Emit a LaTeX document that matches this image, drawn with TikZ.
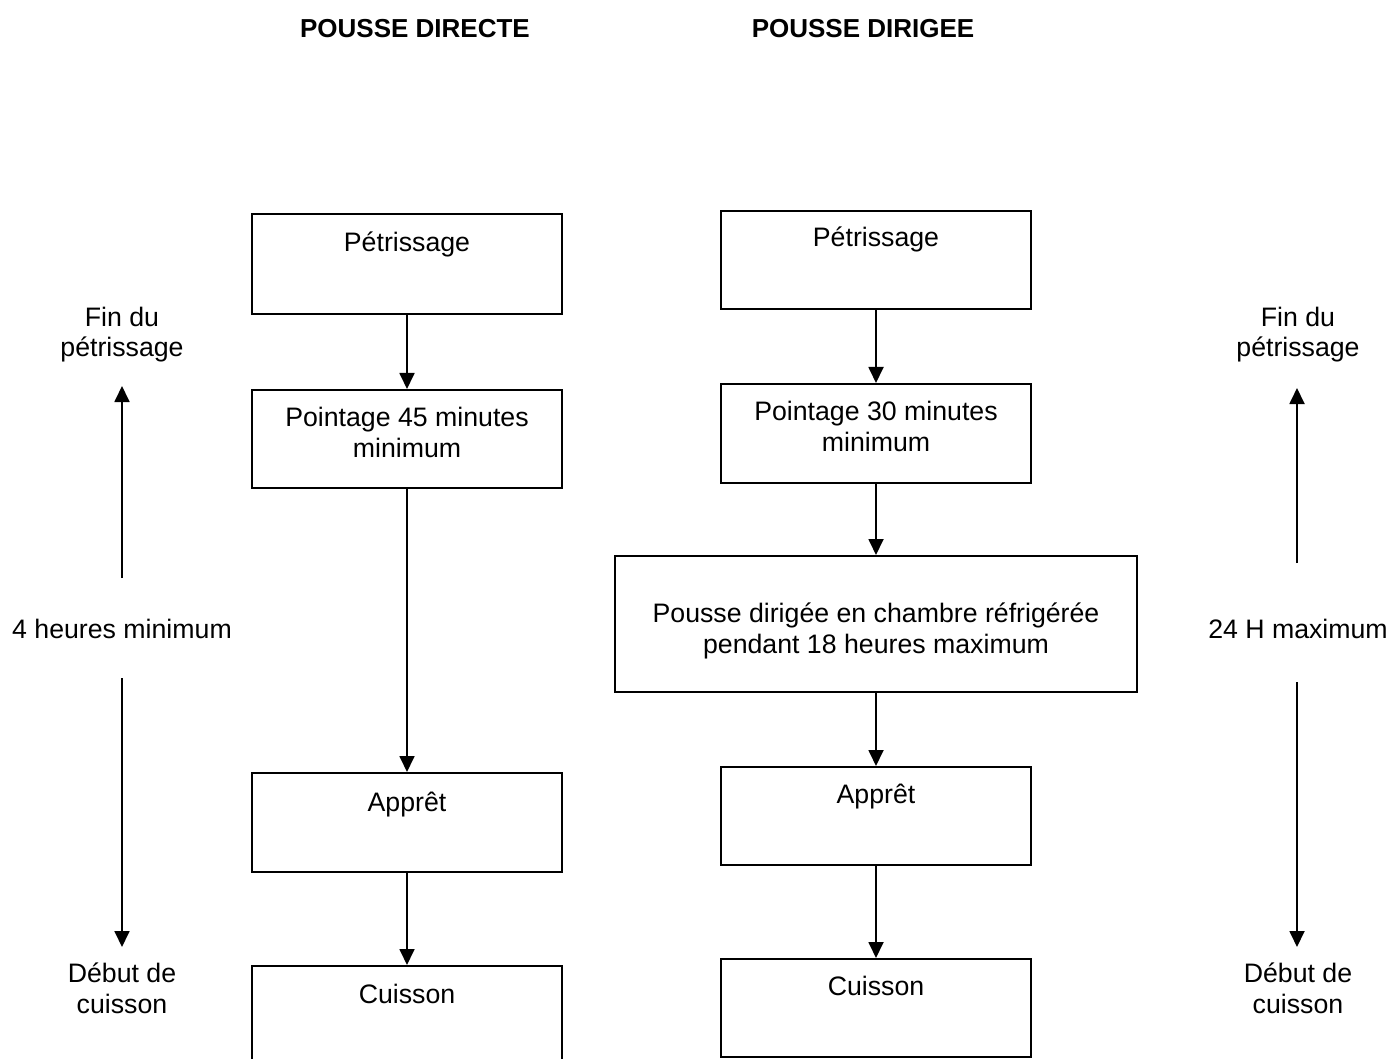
\documentclass[tikz,border=0pt]{standalone}
\usepackage{fontspec}
\setmainfont{Liberation Sans}
\usetikzlibrary{arrows.meta}
\tikzset{
  box/.style={draw=black, line width=2pt, inner sep=0pt, minimum width=310pt},
  txt/.style={font=\fontsize{26.7}{30.5}\selectfont, align=center, inner sep=0pt, anchor=base},
  ttl/.style={font=\bfseries\fontsize{26}{30.5}\selectfont, inner sep=0pt, anchor=base},
  flow/.style={line width=1.8pt, -{Triangle[length=16pt,width=15pt]}},
}
\begin{document}
\begin{tikzpicture}[x=1pt,y=-1pt]
\useasboundingbox (0,0) rectangle (1390,1059);
\fill[white] (0,0) rectangle (1390,1059);

% titles
\node[ttl] (t1) at (415,38) {POUSSE DIRECTE};
\node[ttl] (t2) at (863,38) {POUSSE DIRIGEE};

% left column boxes
\node[box, minimum height=100pt] (l1) at (407,264) {};
\node[box, minimum height=98pt] (l2) at (407,439) {};
\node[box, minimum height=99pt] (l3) at (407,822.5) {};
\node[box, minimum height=120pt] (l4) at (407,1026) {};
\node[txt] (l1t) at (407,252) {Pétrissage};
\node[txt] (l2t) at (407,457) {Pointage 45 minutes\\minimum};
\node[txt] (l3t) at (407,811) {Apprêt};
\node[txt] (l4t) at (407,1003) {Cuisson};

% right column boxes
\node[box, minimum height=98pt] (r1) at (876,260) {};
\node[box, minimum height=99pt] (r2) at (876,433.5) {};
\node[box, minimum width=522pt, minimum height=136pt] (r3) at (876,624) {};
\node[box, minimum height=98pt] (r4) at (876,816) {};
\node[box, minimum height=98pt] (r5) at (876,1008) {};
\node[txt] (r1t) at (876,247) {Pétrissage};
\node[txt] (r2t) at (876,451) {Pointage 30 minutes\\minimum};
\node[txt] (r3t) at (876,653) {Pousse dirigée en chambre réfrigérée\\pendant 18 heures maximum};
\node[txt] (r4t) at (876,803) {Apprêt};
\node[txt] (r5t) at (876,995) {Cuisson};

% flow arrows
\draw[flow] (l1.south) -- (l2.north);
\draw[flow] (l2.south) -- (l3.north);
\draw[flow] (l3.south) -- (l4.north);
\draw[flow] (r1.south) -- (r2.north);
\draw[flow] (r2.south) -- (r3.north);
\draw[flow] (r3.south) -- (r4.north);
\draw[flow] (r4.south) -- (r5.north);

% left time scale
\node[txt] (lfin) at (122,357) {Fin du\\pétrissage};
\node[txt] (ldur) at (122,638) {4 heures minimum};
\node[txt] (ldeb) at (122,1013) {Début de\\cuisson};
\coordinate (lua) at (122,578);
\coordinate (lub) at (122,386);
\coordinate (lda) at (122,678);
\coordinate (ldb) at (122,947);
\draw[flow] (lua) -- (lub);
\draw[flow] (lda) -- (ldb);

% right time scale
\node[txt] (rfin) at (1298,357) {Fin du\\pétrissage};
\node[txt] (rdur) at (1298,638) {24 H maximum};
\node[txt] (rdeb) at (1298,1013) {Début de\\cuisson};
\coordinate (rua) at (1297,563);
\coordinate (rub) at (1297,388);
\coordinate (rda) at (1297,682);
\coordinate (rdb) at (1297,947);
\draw[flow] (rua) -- (rub);
\draw[flow] (rda) -- (rdb);
\end{tikzpicture}
\end{document}
